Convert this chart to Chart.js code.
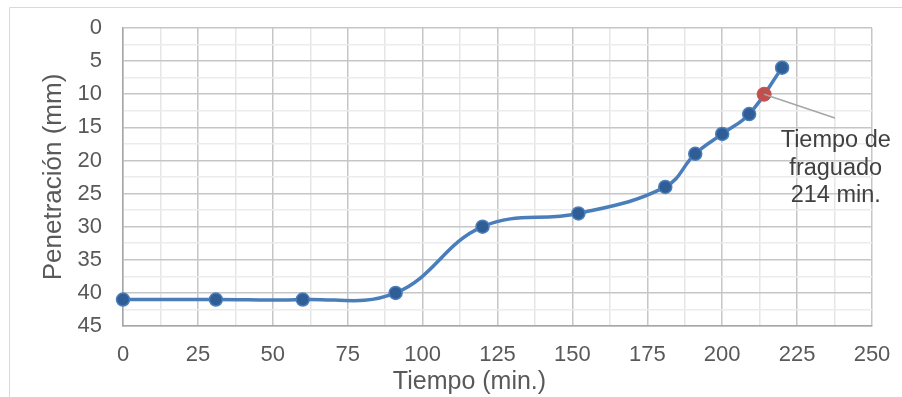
<!DOCTYPE html>
<html>
<head>
<meta charset="utf-8">
<script src="https://cdn.jsdelivr.net/npm/chart.js@4"></script>
<style>
  html, body { margin: 0; padding: 0; background: #fff; }
  #wrap { position: relative; width: 902px; height: 397px; }
</style>
</head>
<body>
<div id="wrap"><canvas id="c" width="902" height="397"></canvas></div>
<script>
// Data
const tiempo = [0, 31, 60, 91, 120, 152, 181, 191, 200, 209, 220];
const penetracion = [41, 41, 41, 40, 30, 28, 24, 19, 16, 13, 6];
const tiempoFraguado = [214];
const penetracionFraguado = [10];
const xTicks = [0, 25, 50, 75, 100, 125, 150, 175, 200, 225, 250];
const yTicks = [0, 5, 10, 15, 20, 25, 30, 35, 40, 45];
const labelLines = ['Tiempo de', 'fraguado', '214 min.'];
const xTitle = 'Tiempo (min.)';
const yTitle = 'Penetración (mm)';

const mainPoints = tiempo.map((t, i) => ({x: t, y: penetracion[i]}));
const setPoints = tiempoFraguado.map((t, i) => ({x: t, y: penetracionFraguado[i]}));

const FONT = '"Liberation Sans", Arial, sans-serif';

const frame = {
  id: 'frame',
  beforeDraw(chart) {
    const ctx = chart.ctx;
    ctx.save();
    ctx.fillStyle = '#ffffff';
    ctx.fillRect(0, 0, chart.width, chart.height);
    ctx.strokeStyle = '#d9d9d9';
    ctx.lineWidth = 1;
    ctx.beginPath();
    ctx.moveTo(9.5, chart.height);
    ctx.lineTo(9.5, 7.5);
    ctx.lineTo(chart.width, 7.5);
    ctx.stroke();
    ctx.restore();
  },
  afterDraw(chart) {
    // x axis title, centred on the whole chart frame like the original
    const ctx = chart.ctx;
    ctx.save();
    ctx.fillStyle = '#595959';
    ctx.font = '25px ' + FONT;
    ctx.textAlign = 'center';
    ctx.textBaseline = 'alphabetic';
    ctx.fillText(xTitle, 469.5, 389);
    ctx.restore();
  }
};

const callout = {
  id: 'callout',
  afterDatasetsDraw(chart) {
    const xs = chart.scales.x, ys = chart.scales.y;
    const ctx = chart.ctx;
    const px = xs.getPixelForValue(tiempoFraguado[0]);
    const py = ys.getPixelForValue(penetracionFraguado[0]);
    const ex = xs.getPixelForValue(237.6);
    const ey = ys.getPixelForValue(13.6);
    ctx.save();
    ctx.strokeStyle = '#a6a6a6';
    ctx.lineWidth = 1.5;
    ctx.beginPath();
    ctx.moveTo(px, py);
    ctx.lineTo(ex, ey);
    ctx.stroke();
    ctx.fillStyle = '#404040';
    ctx.font = '23.5px ' + FONT;
    ctx.textAlign = 'center';
    ctx.textBaseline = 'alphabetic';
    const cx = xs.getPixelForValue(237.9);
    labelLines.forEach((s, i) => ctx.fillText(s, cx, ey + 29 + i * 27.5));
    ctx.restore();
  }
};

new Chart(document.getElementById('c'), {
  type: 'line',
  data: {
    datasets: [
      {
        data: setPoints,
        order: 0,
        clip: false,
        showLine: false,
        pointRadius: 7,
        pointBackgroundColor: '#c0504d',
        pointBorderColor: '#c9524e',
        pointBorderWidth: 1
      },
      {
        data: mainPoints,
        order: 1,
        clip: false,
        borderColor: '#4a7ebb',
        borderWidth: 3.5,
        tension: 0.4,
        cubicInterpolationMode: 'default',
        pointRadius: 6.5,
        pointBackgroundColor: '#2f5e97',
        pointBorderColor: '#4a7ebb',
        pointBorderWidth: 1.5
      }
    ]
  },
  options: {
    responsive: false,
    animation: false,
    devicePixelRatio: 1,
    layout: { padding: { top: 28, right: 30, left: 0, bottom: 0 }, autoPadding: false },
    plugins: { legend: { display: false }, tooltip: { enabled: false } },
    scales: {
      x: {
        type: 'linear',
        min: 0, max: 250,
        afterFit(s) { s.height = 71; s.paddingLeft = 0; s.paddingRight = 0; },
        afterBuildTicks(s) {
          const t = [];
          for (let v = 0; v <= 250; v += 12.5) t.push({value: v});
          s.ticks = t;
        },
        ticks: {
          autoSkip: false, maxRotation: 0, padding: 16,
          color: '#595959',
          font: { size: 22, family: FONT },
          callback: (v) => xTicks.includes(v) ? String(v) : ''
        },
        grid: {
          drawTicks: false,
          lineWidth: 1.5,
          color: (c) => (c.tick && xTicks.includes(c.tick.value)) ? '#c6c6c6' : '#e6e6e6'
        },
        border: { color: '#a6a6a6', width: 1.5 },
        title: { display: false }
      },
      y: {
        type: 'linear',
        reverse: true,
        min: 0, max: 45,
        afterFit(s) { s.width = 123; s.paddingTop = 0; s.paddingBottom = 0; },
        afterBuildTicks(s) {
          const t = [];
          for (let v = 0; v <= 45; v += 2.5) t.push({value: v});
          s.ticks = t;
        },
        ticks: {
          autoSkip: false, padding: 21,
          color: '#595959',
          font: { size: 22, family: FONT },
          callback: (v) => yTicks.includes(v) ? String(v) : ''
        },
        grid: {
          drawTicks: false,
          lineWidth: 1.5,
          color: (c) => (c.tick && yTicks.includes(c.tick.value)) ? '#c6c6c6' : '#ececec'
        },
        border: { color: '#a6a6a6', width: 1.5 },
        title: {
          display: true, text: yTitle, color: '#595959',
          font: { size: 26, family: FONT },
          padding: { top: 38, bottom: 0 }
        }
      }
    }
  },
  plugins: [frame, callout]
});
</script>
</body>
</html>
